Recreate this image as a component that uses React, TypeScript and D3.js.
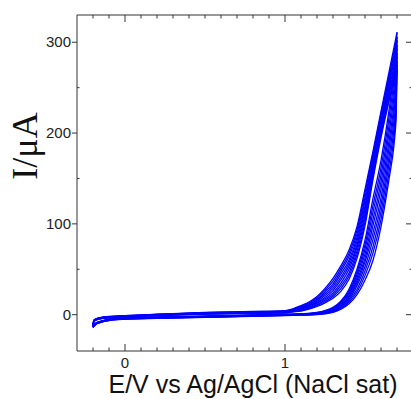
import React from "react";
import * as d3 from "d3";

// Potential grids (V vs Ag/AgCl)
const forwardE = [-0.2, -0.195, -0.18, -0.15, -0.1, 0, 0.2, 0.5, 0.8, 1.0, 1.05, 1.1, 1.15, 1.2, 1.25, 1.3, 1.35, 1.4, 1.45, 1.5, 1.55, 1.6, 1.65, 1.7];
const reverseE = [-0.2, -0.18, -0.15, -0.1, 0, 0.2, 0.5, 1.0, 1.1, 1.2, 1.25, 1.3, 1.35, 1.4, 1.45, 1.5, 1.55, 1.6, 1.65, 1.68, 1.69, 1.695, 1.7];

// Current (µA), anodic (forward) sweep, one row per cycle
const forwardI = [
  [-12, -6, -4.5, -3, -2, -1, 0.5, 2.5, 3.5, 4.5, 6.5, 10, 14, 20, 29, 40, 54, 71, 97, 138, 180, 224, 267, 311],
  [-12.2, -6.2, -4.7, -3.2, -2.2, -1.2, 0.3, 2.3, 3.3, 4.2, 6.1, 9.3, 13, 18.5, 27, 37, 51, 67.5, 93, 134, 177, 221, 263, 306],
  [-12.4, -6.4, -4.8, -3.3, -2.3, -1.3, 0.2, 2.1, 3.1, 3.9, 5.7, 8.7, 12, 17, 25, 34, 48, 64, 89, 129, 173, 218, 260, 302],
  [-12.7, -6.7, -5, -3.5, -2.5, -1.5, 0, 1.8, 2.8, 3.7, 5.3, 8, 11, 16, 23, 31.5, 45, 60, 85, 125, 170, 214, 256, 297],
  [-12.9, -6.9, -5.2, -3.7, -2.7, -1.7, -0.2, 1.6, 2.6, 3.4, 4.9, 7.3, 10, 14.5, 21, 29, 41.5, 57, 81, 120, 166, 211, 253, 293],
  [-13.1, -7.1, -5.3, -3.8, -2.8, -1.8, -0.3, 1.4, 2.4, 3.1, 4.6, 6.7, 9.5, 13.5, 19, 26.5, 38.5, 53.5, 77, 116, 163, 208, 249, 288],
  [-13.3, -7.3, -5.5, -4, -3, -2, -0.5, 1.2, 2.2, 2.8, 4.2, 6, 8.5, 12.5, 17.5, 24, 35, 50, 74, 111, 159, 205, 245, 284],
  [-13.6, -7.6, -5.7, -4.2, -3.2, -2.2, -0.7, 0.9, 1.9, 2.6, 3.8, 5.3, 7.5, 11, 16, 22, 32, 46, 70, 107, 156, 201, 242, 279],
  [-13.8, -7.8, -5.8, -4.3, -3.3, -2.3, -0.8, 0.7, 1.7, 2.3, 3.4, 4.7, 7, 10, 14.5, 20, 29, 42.5, 66, 102, 152, 198, 238, 275],
  [-14, -8, -6, -4.5, -3.5, -2.5, -1, 0.5, 1.5, 2, 3, 4, 6, 9, 13, 18, 26, 39, 62, 98, 149, 195, 235, 270],
];

// Current (µA), cathodic (reverse) sweep, listed by ascending E, one row per cycle
const reverseI = [
  [-12, -9, -7, -5, -3.5, -2.5, -1.5, 0.5, 1, 2.5, 4.5, 8, 15, 28, 50, 82, 128, 170, 225, 265, 280, 292, 311],
  [-12.2, -9.2, -7.2, -5.2, -3.7, -2.7, -1.7, 0.3, 0.8, 2.2, 4.1, 7.4, 14, 26, 47, 77, 120, 162, 217, 256, 272, 284, 306],
  [-12.4, -9.3, -7.3, -5.3, -3.8, -2.8, -1.8, 0.2, 0.7, 1.9, 3.7, 6.8, 13, 24, 44, 72, 113, 154, 208, 247, 263, 276, 302],
  [-12.7, -9.5, -7.5, -5.5, -4, -3, -2, 0, 0.5, 1.7, 3.3, 6.2, 12, 22.5, 41, 67, 105, 146, 200, 238, 255, 267, 297],
  [-12.9, -9.7, -7.7, -5.7, -4.2, -3.2, -2.2, -0.2, 0.3, 1.4, 2.9, 5.6, 11, 20.5, 38, 62, 98, 138, 191, 229, 246, 259, 293],
  [-13.1, -9.8, -7.8, -5.8, -4.3, -3.3, -2.3, -0.3, 0.2, 1.1, 2.6, 4.9, 10, 19, 35, 58, 90, 129, 183, 221, 238, 251, 288],
  [-13.3, -10, -8, -6, -4.5, -3.5, -2.5, -0.5, 0, 0.8, 2.2, 4.3, 9, 17, 32, 53, 83, 121, 174, 212, 229, 243, 284],
  [-13.6, -10.2, -8.2, -6.2, -4.7, -3.7, -2.7, -0.7, -0.2, 0.6, 1.8, 3.7, 8, 15.5, 28, 48, 75, 113, 166, 203, 221, 235, 279],
  [-13.8, -10.3, -8.3, -6.3, -4.8, -3.8, -2.8, -0.8, -0.3, 0.3, 1.4, 3.1, 7, 14, 25, 43, 68, 105, 157, 194, 212, 226, 275],
  [-14, -10.5, -8.5, -6.5, -5, -4, -3, -1, -0.5, 0, 1, 2.5, 6, 12, 22, 38, 60, 97, 149, 185, 204, 218, 270],
];

const xTickValues = [0, 1];
const xTickLabels = ["0", "1"];
const yTickValues = [0, 100, 200, 300];
const yTickLabels = ["0", "100", "200", "300"];
const xLabel = "E/V vs Ag/AgCl (NaCl sat)";
const yLabel = "I/μA";

const W = 411;
const H = 399;
const plot = { left: 77, right: 413, top: 15, bottom: 351 };

export default function App() {
  const x = d3.scaleLinear().domain([-0.3, 1.8]).range([plot.left, plot.right]);
  const y = d3.scaleLinear().domain([-40, 330]).range([plot.bottom, plot.top]);
  const line = d3
    .line<[number, number]>()
    .x((d) => x(d[0]))
    .y((d) => y(d[1]))
    .curve(d3.curveMonotoneX);

  const xMinor = d3.range(-2, 18).map((v) => v / 10).filter((v) => !xTickValues.some((t) => Math.abs(t - v) < 1e-9));
  const yMinor = [50, 150, 250];
  const axisColor = "#333";
  const font = "'Liberation Sans', Arial, sans-serif";

  return (
    <svg width={W} height={H} style={{ position: "absolute", left: 0, top: 0, background: "#fff" }}>
      <g fill="none" stroke="#0000ff" strokeWidth={1.3}>
        {forwardI.map((cyc, k) => (
          <path key={"f" + k} d={line(forwardE.map((e, i) => [e, cyc[i]]) as [number, number][]) || ""} />
        ))}
        {reverseI.map((cyc, k) => (
          <path key={"r" + k} d={line(reverseE.map((e, i) => [e, cyc[i]]) as [number, number][]) || ""} />
        ))}
      </g>
      <g stroke={axisColor} strokeWidth={1} fill="none">
        <line x1={plot.left} x2={plot.left} y1={plot.top} y2={plot.bottom} />
        <line x1={plot.left} x2={plot.right} y1={plot.bottom} y2={plot.bottom} />
        <line x1={plot.left} x2={plot.right} y1={plot.top} y2={plot.top} />
        <line x1={plot.right} x2={plot.right} y1={plot.top} y2={plot.bottom} />
        {xTickValues.map((v) => (
          <g key={"xm" + v}>
            <line x1={x(v)} x2={x(v)} y1={plot.bottom} y2={plot.bottom - 7} />
            <line x1={x(v)} x2={x(v)} y1={plot.top} y2={plot.top + 7} />
          </g>
        ))}
        {xMinor.map((v) => (
          <g key={"xn" + v}>
            <line x1={x(v)} x2={x(v)} y1={plot.bottom} y2={plot.bottom - 3.5} />
            <line x1={x(v)} x2={x(v)} y1={plot.top} y2={plot.top + 3.5} />
          </g>
        ))}
        {yTickValues.map((v) => (
          <g key={"ym" + v}>
            <line x1={plot.left - 5} x2={plot.left} y1={y(v)} y2={y(v)} />
            <line x1={plot.right} x2={plot.right - 7} y1={y(v)} y2={y(v)} />
          </g>
        ))}
        {yMinor.map((v) => (
          <g key={"yn" + v}>
            <line x1={plot.left} x2={plot.left + 2.5} y1={y(v)} y2={y(v)} />
            <line x1={plot.right} x2={plot.right - 3.5} y1={y(v)} y2={y(v)} />
          </g>
        ))}
      </g>
      <g fill="#222" fontFamily={font} fontSize={15}>
        {yTickValues.map((v, i) => (
          <text key={"yl" + v} x={plot.left - 6} y={y(v)} dy="0.35em" textAnchor="end">
            {yTickLabels[i]}
          </text>
        ))}
        {xTickValues.map((v, i) => (
          <text key={"xl" + v} x={x(v)} y={368} textAnchor="middle">
            {xTickLabels[i]}
          </text>
        ))}
      </g>
      <text x={253} y={393} textAnchor="middle" fontFamily={font} fontSize={25} fill="#111">
        {xLabel}
      </text>
      <text
        transform="translate(37,146) rotate(-90)"
        textAnchor="middle"
        fontFamily="'Liberation Serif', 'Times New Roman', serif"
        fontSize={36}
        fill="#111"
      >
        {yLabel}
      </text>
    </svg>
  );
}
